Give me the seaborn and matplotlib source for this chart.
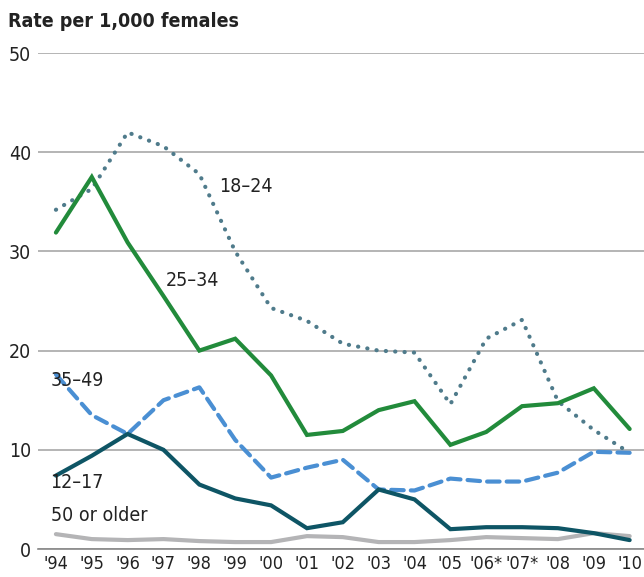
import numpy as np
import pandas as pd
import matplotlib
matplotlib.use("Agg")
import matplotlib.pyplot as plt
import seaborn as sns

# Data
years = ["'94", "'95", "'96", "'97", "'98", "'99", "'00", "'01", "'02",
         "'03", "'04", "'05", "'06*", "'07*", "'08", "'09", "'10"]
age_12_17 = [7.4, 9.4, 11.6, 10.0, 6.5, 5.1, 4.4, 2.1, 2.7, 6.0, 5.0, 2.0, 2.2, 2.2, 2.1, 1.6, 0.9]
age_18_24 = [34.2, 36.3, 42.0, 40.6, 37.8, 30.0, 24.3, 23.0, 20.7, 20.0, 19.8, 14.6, 21.2, 23.1, 14.9, 12.0, 9.7]
age_25_34 = [31.9, 37.5, 30.9, 25.5, 20.0, 21.2, 17.5, 11.5, 11.9, 14.0, 14.9, 10.5, 11.8, 14.4, 14.7, 16.2, 12.1]
age_35_49 = [17.6, 13.5, 11.6, 15.0, 16.3, 11.0, 7.2, 8.2, 9.0, 6.0, 5.9, 7.1, 6.8, 6.8, 7.7, 9.8, 9.7]
age_50_up = [1.5, 1.0, 0.9, 1.0, 0.8, 0.7, 0.7, 1.3, 1.2, 0.7, 0.7, 0.9, 1.2, 1.1, 1.0, 1.6, 1.3]

sns.set_style("white")
plt.rcParams['font.family'] = ['DejaVu Sans']
plt.rcParams['font.stretch'] = 'condensed'

fig = plt.figure(figsize=(6.44, 5.77), dpi=100)
ax = fig.add_axes([0.059, 0.0485, 0.941, 0.8596])

x = np.arange(len(years))
# order: gray first so others draw on top
series = [
    ("50 or older", age_50_up, "#b4b4b6", "-"),
    ("35–49", age_35_49, "#4a8fd3", (0, (3, 1.7))),
    ("18–24", age_18_24, "#4f7b8b", (0, (0.05, 2.2))),
    ("25–34", age_25_34, "#228b3b", "-"),
    ("12–17", age_12_17, "#0e5565", "-"),
]
for name, vals, col, ls in series:
    df = pd.DataFrame({"x": x, "rate": vals})
    sns.lineplot(data=df, x="x", y="rate", ax=ax, color=col, linewidth=3.0,
                 linestyle=ls, dash_capstyle="round", solid_joinstyle="miter")

# labels for each line
lab = dict(fontsize=14, color="#222222")
ax.text(4.55, 36.0, "18–24", **lab)
ax.text(3.05, 26.5, "25–34", **lab)
ax.text(-0.15, 16.4, "35–49", **lab)
ax.text(-0.15, 6.2, "12–17", **lab)
ax.text(-0.15, 2.8, "50 or older", **lab)

ax.set_xlim(-0.5, 16.4)
ax.set_ylim(0, 50)
ax.set_yticks([0, 10, 20, 30, 40, 50])
ax.yaxis.grid(True, color="#a8a8a8", linewidth=1.2)
ax.set_axisbelow(True)
ax.set_xticks(x)
ax.set_xticklabels(years)
ax.set_xticks(np.arange(-0.5, 16.5, 1), minor=True)
ax.tick_params(axis="x", which="major", length=0, labelsize=13, pad=4, colors="#222222")
ax.tick_params(axis="x", which="minor", length=5, direction="in", color="#888888", width=1)
ax.tick_params(axis="y", length=0, labelsize=14, pad=5, colors="#222222")
for s in ["top", "right", "left"]:
    ax.spines[s].set_visible(False)
ax.spines["bottom"].set_color("#888888")
ax.spines["bottom"].set_linewidth(1.2)
ax.set_xlabel("")
ax.set_ylabel("")

fig.text(0.012, 0.962, "Rate per 1,000 females", fontsize=14, fontweight="bold",
         color="#222222", va="center")

plt.savefig("out.png", dpi=100)
